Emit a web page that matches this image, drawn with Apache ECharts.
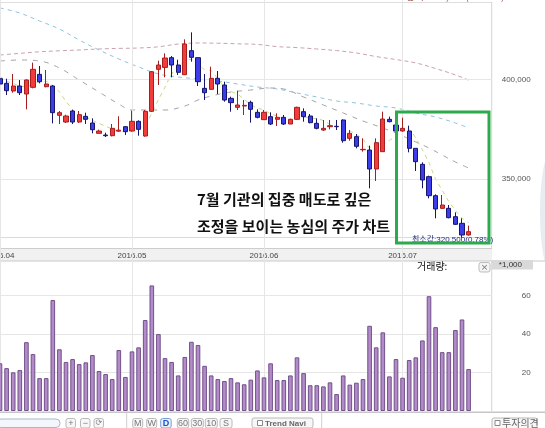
<!DOCTYPE html>
<html><head><meta charset="utf-8">
<script src="https://cdn.jsdelivr.net/npm/echarts@6/dist/echarts.min.js"></script>
<style>html,body{margin:0;padding:0;background:#fff;}#c{width:545px;height:428px;}</style>
</head><body><div id="c"></div>
<script>
// ---------- data ----------
const dates = ['2016.04.01','2016.04.04','2016.04.05','2016.04.06','2016.04.07','2016.04.08','2016.04.11','2016.04.12','2016.04.14','2016.04.15',
'2016.04.18','2016.04.19','2016.04.20','2016.04.21','2016.04.22','2016.04.25','2016.04.26','2016.04.27','2016.04.28','2016.04.29',
'2016.05.02','2016.05.03','2016.05.04','2016.05.09','2016.05.10','2016.05.11','2016.05.12','2016.05.13','2016.05.16','2016.05.17',
'2016.05.18','2016.05.19','2016.05.20','2016.05.23','2016.05.24','2016.05.25','2016.05.26','2016.05.27','2016.05.30','2016.05.31',
'2016.06.01','2016.06.02','2016.06.03','2016.06.07','2016.06.08','2016.06.09','2016.06.10','2016.06.13','2016.06.14','2016.06.15',
'2016.06.16','2016.06.17','2016.06.20','2016.06.21','2016.06.22','2016.06.23','2016.06.24','2016.06.27','2016.06.28','2016.06.29',
'2016.06.30','2016.07.01','2016.07.04','2016.07.05','2016.07.06','2016.07.07','2016.07.08','2016.07.11','2016.07.12','2016.07.13',
'2016.07.14','2016.07.15'];
const padCategories = ['', '', ''];

const opens = [400300,397970,394130,396640,392620,395970,402480,396300,396640,381920,
378580,384100,378580,381420,378080,372900,372060,371720,374000,376240,
374060,378910,371550,383930,405000,405980,410850,407170,402320,414360,
410850,395460,394960,400480,397140,390450,385940,386600,388450,383430,
379760,381260,379920,380920,377580,379920,383770,381590,377920,374570,
376240,376400,379590,370390,371230,364680,364540,355010,363700,379920,
377080,374070,374070,365380,357360,351170,341640,335290,335290,331110,
327770,321920];
const closes = [397640,394290,396640,393290,399650,405000,398800,397640,383260,383260,
381590,378580,382260,379920,374730,374060,371720,375400,374500,373730,
378910,374900,383930,403820,407170,410680,407170,403490,417700,411010,
398810,393290,400480,397640,389610,388280,387110,386940,384940,380920,
383430,377580,380920,377580,379920,385940,381260,378250,375410,375410,
376740,376240,369220,372900,366380,364860,355010,368220,380090,378750,
374070,375410,365380,358690,349500,341640,334960,336960,330610,327260,
321920,323590];
const lows = [396800,392120,393290,392120,384930,395460,397970,395970,377910,377580,
378100,377580,378100,377580,372900,372900,371060,371390,373700,372060,
373730,371720,371220,383600,397140,400980,400980,402150,402150,408840,
396640,389610,394800,392620,388780,383760,384600,382100,378250,380420,
379590,377080,376570,377080,377580,379590,378750,377920,374910,374070,
374910,374570,368220,369220,365380,363700,345320,348990,363700,378420,
373800,373740,363370,354010,345320,340300,330280,334960,330280,326920,
320500,321590];
const highs = [401300,400300,402650,399650,399980,408340,406670,404660,397140,384100,
382260,384760,384100,383260,380420,374730,373230,377580,381450,376570,
384260,379420,384600,404160,409340,413020,411680,409840,420040,423550,
410850,402650,406330,404160,398800,391290,394300,389620,389280,384940,
384600,383430,382930,382090,380250,386270,385440,382600,380420,379590,
379590,379590,379920,374570,372560,370390,366720,370390,383770,381260,
377580,380760,376740,365380,358360,351670,342310,341970,336960,333290,
330280,326600];

// volume, x 1,000
const volumes = [24.8,22.3,20.1,21.3,35.8,29.6,17.1,17.1,57.7,32.1,
25.5,27.0,24.4,25.3,29.1,20.8,19.2,16.6,31.7,17.7,
31.0,33.1,47.3,65.3,40.0,27.5,25.5,18.5,28.1,36.0,
34.3,23.5,18.5,16.6,15.6,17.1,14.9,13.9,16.3,21.1,
17.5,24.8,16.1,16.1,18.5,27.9,19.7,13.4,13.4,12.8,
14.9,8.8,18.5,13.7,14.7,16.6,44.3,33.1,40.9,18.0,
27.0,17.3,26.5,27.9,36.7,59.7,43.6,30.6,30.6,42.1,
47.6,21.8];

// moving averages
const ma5 = [401500,399000,398000,396500,396300,397800,398700,398900,396900,393600,
388900,384900,381800,381100,379400,377900,376500,375100,374000,373800,
374800,375500,377200,383000,389700,396100,402600,406500,409300,410000,
407600,404900,404300,400200,396000,393900,392600,389900,387400,385600,
384600,382700,381500,380100,379900,380400,381100,380600,380200,379300,
377400,376400,374600,374100,372300,370000,365700,365500,367000,369400,
371200,375300,374800,370500,364600,358100,350000,344400,338700,334300,
330400,328100];
const ma20 = [[0,409180],[3,409680],[6,409180],[9,405670],[12,399650],[15,393630],[18,387610],[20,384600],[23,384600],[25,384600],
[28,386610],[30,389620],[32,391620],[35,393630],[38,394630],[41,395630],[43,395130],[46,391120],[49,387110],[52,383100],
[55,379090],[58,375580],[61,371570],[63,368560],[65,365550],[67,362040],[69,358530],[71,355520]];
const ma60 = [[0,435800],[3,433250],[6,429240],[9,425230],[12,419700],[15,414700],[18,410200],[21,406200],[24,402700],[27,401150],
[30,400150],[33,399150],[36,397640],[39,396140],[42,395130],[45,393130],[48,391120],[51,389120],[54,388110],[57,386610],
[60,385610],[63,383100],[66,381090],[69,378090],[71,375580]];
const ma120 = [[0,412200],[3,413000],[6,413800],[9,414300],[12,414700],[15,415200],[18,415500],[21,415700],[24,416300],[27,417700],
[30,418200],[33,418100],[36,417800],[39,417500],[42,416400],[45,415900],[48,415200],[51,414400],[54,413200],[57,411400],
[60,409900],[63,408200],[66,405400],[69,402200],[71,399600]];

const priceGridValues = [350000, 400000];
const volumeGridValues = [20, 40, 60];
const monthStartIdx = [0, 20, 40, 61];
const monthLabels = ['2016.04', '2016.05', '2016.06', '2016.07'];

// ---------- chart ----------
const cats = dates.concat(padCategories);
const candleData = dates.map((d, i) => [opens[i], closes[i], lows[i], highs[i]]);
const GL = -3.3, GW = 495;
const gridColor = '#e6e6e6';
const vLines = monthStartIdx.map(i => ({ xAxis: dates[i] }));

const chart = echarts.init(document.getElementById('c'), null, { renderer: 'canvas' });

function box(x, y, w, h, extra) {
  return Object.assign({ type: 'rect', shape: { x, y, width: w, height: h, r: 2 },
    style: { fill: '#f7f7f7', stroke: '#b9b9b9', lineWidth: 1 }, z: 50 }, extra || {});
}
function txt(x, y, s, font, fill, align, extra) {
  return Object.assign({ type: 'text', z: 60, style: { x, y, text: s, font, fill, align: align || 'left', verticalAlign: 'middle' } }, extra || {});
}
function hline(x1, x2, y, color, w, z) {
  return { type: 'line', shape: { x1, y1: y, x2, y2: y }, style: { stroke: color, lineWidth: w || 1 }, z: z == null ? 1 : z };
}
function vline(x, y1, y2, color, w, z) {
  return { type: 'line', shape: { x1: x, y1, x2: x, y2 }, style: { stroke: color, lineWidth: w || 1 }, z: z == null ? 1 : z };
}

const btnFont = '9px "Liberation Sans"';
const graphics = [
  // header remnant
  hline(0, 492, 2.5, '#dedede', 1, 1),
  txt(406, -4, '종가: 400,000(-2.20%)', '10px "Noto Sans CJK KR"', '#a06050'),
  // right borders & panel bottoms
  vline(491.7, 2, 248, '#d4d4d4', 1, 1),
  hline(0, 492, 237.5, '#dadada', 1, 1),
  // date strip
  { type: 'rect', shape: { x: 0, y: 248, width: 492, height: 13 }, style: { fill: '#f1f1f1' }, z: 0 },
  hline(0, 545, 261, '#c9c9c9', 1, 1),
  vline(491.7, 261, 411, '#d4d4d4', 1, 1),
  // volume header
  txt(417, 266, '거래량:', '10px "Noto Sans CJK KR"', '#111'),
  box(479, 262.5, 11, 9.5, { style: { fill: '#f4f4f4', stroke: '#bdbdbd', lineWidth: 1 } }),
  txt(484.5, 267.3, '×', '9px "DejaVu Sans"', '#777', 'center'),
  { type: 'rect', shape: { x: 492, y: 260, width: 41, height: 9.5 }, style: { fill: '#d9d9d9' }, z: 40 },
  txt(522, 264.8, '*1,000', '8px "Liberation Sans"', '#333', 'right'),
  // right scroll hint
  { type: 'ellipse', shape: { cx: 551, cy: 212, rx: 11, ry: 60 }, style: { fill: '#e8ebf0' }, z: 0 },
  // toolbar
  hline(0, 545, 412.2, '#c6c6c6', 1.5, 30),
  { type: 'rect', shape: { x: -3, y: 419, width: 63, height: 8.5, r: 4 }, style: { fill: '#f3f7fb', stroke: '#a9b8c8', lineWidth: 1 }, z: 50 },
  box(66, 418.5, 9.5, 9.5), txt(70.8, 423.3, '+', btnFont, '#777', 'center'),
  box(80.5, 418.5, 9.5, 9.5), txt(85.3, 423.3, '−', btnFont, '#777', 'center'),
  box(94, 418.5, 9.5, 9.5), txt(98.8, 423.3, '⟳', '8px "DejaVu Sans"', '#888', 'center'),
  vline(126.7, 413, 428, '#cfcfcf', 1, 30),
  box(132.7, 418.5, 10, 9.5), txt(137.7, 423.3, 'M', btnFont, '#777', 'center'),
  box(146.7, 418.5, 10, 9.5), txt(151.7, 423.3, 'W', btnFont, '#777', 'center'),
  box(160.7, 418.5, 10.5, 9.5, { style: { fill: '#e9f0fb', stroke: '#7b9fd6', lineWidth: 1 } }), txt(166, 423.3, 'D', 'bold 9px "Liberation Sans"', '#1d56c8', 'center'),
  box(177.3, 418.5, 11.4, 9.5), txt(183, 423.3, '60', btnFont, '#777', 'center'),
  box(191.3, 418.5, 12, 9.5), txt(197.3, 423.3, '30', btnFont, '#777', 'center'),
  box(205.3, 418.5, 12, 9.5), txt(211.3, 423.3, '10', btnFont, '#777', 'center'),
  box(220, 418.5, 12, 9.5), txt(226, 423.3, 'S', btnFont, '#777', 'center'),
  box(252, 418, 61, 10), { type: 'rect', shape: { x: 257.5, y: 420.5, width: 5, height: 5 }, style: { fill: '#fff', stroke: '#888', lineWidth: 1 }, z: 55 },
  txt(265, 423.3, 'Trend Navi', 'bold 8px "Liberation Sans"', '#666'),
  vline(321.7, 413, 428, '#cfcfcf', 1, 30),
  box(492, 418, 45, 11), { type: 'rect', shape: { x: 495, y: 420.5, width: 5, height: 5 }, style: { fill: '#fff', stroke: '#888', lineWidth: 1 }, z: 55 },
  txt(502, 423.5, '투자의견', '10px "Noto Sans CJK KR"', '#666'),
  // annotation
  txt(412, 239.5, '최소값:320,500(0.78%)', '8px "Liberation Sans", "Noto Sans CJK KR"', '#1f2b78'),
  { type: 'rect', shape: { x: 396.5, y: 112, width: 92.5, height: 131 }, style: { fill: 'rgba(0,0,0,0)', stroke: '#2eaa4e', lineWidth: 3 }, z: 80 },
  txt(197, 199, '7월 기관의 집중 매도로 깊은', 'bold 15px "Noto Sans CJK KR"', '#111', 'left', { z: 90 }),
  txt(197, 226.5, '조정을 보이는 농심의 주가 차트', 'bold 15px "Noto Sans CJK KR"', '#111', 'left', { z: 90 })
];

const option = {
  animation: false,
  backgroundColor: '#ffffff',
  grid: [
    { left: GL, width: GW, top: -20.4, height: 299.1, outerBoundsMode: 'none', containLabel: false },
    { left: GL, width: GW, top: 261, height: 150, outerBoundsMode: 'none', containLabel: false }
  ],
  xAxis: [
    { type: 'category', gridIndex: 0, data: cats, boundaryGap: true, offset: -30.4,
      axisLine: { show: true, lineStyle: { color: '#cdcdcd' } }, axisTick: { show: false },
      axisLabel: { interval: (i) => monthStartIdx.indexOf(i) >= 0,
        formatter: (v, i) => monthLabels[monthStartIdx.indexOf(i)] || '',
        fontSize: 8, fontFamily: 'Liberation Sans', color: '#444', margin: 3, hideOverlap: false },
      splitLine: { show: false } },
    { type: 'category', gridIndex: 1, data: cats, boundaryGap: true,
      axisLine: { show: false }, axisTick: { show: false }, axisLabel: { show: false }, splitLine: { show: false } }
  ],
  yAxis: [
    { type: 'value', gridIndex: 0, position: 'right', min: 300000, max: 450000, interval: 50000,
      axisLine: { show: false }, axisTick: { show: false }, splitLine: { show: false },
      axisLabel: { showMinLabel: false, showMaxLabel: false, margin: 10, fontSize: 8, fontFamily: 'Liberation Sans', color: '#555',
        formatter: v => v.toLocaleString('en-US') } },
    { type: 'value', gridIndex: 1, position: 'right', min: 0, max: 78, interval: 20,
      axisLine: { show: false }, axisTick: { show: false }, splitLine: { show: false },
      axisLabel: { showMinLabel: false, showMaxLabel: false, margin: 30, fontSize: 8, fontFamily: 'Liberation Sans', color: '#555' } }
  ],
  series: [
    { type: 'line', name: 'ma120', xAxisIndex: 0, yAxisIndex: 0, data: ma120, showSymbol: false, smooth: 0.4,
      lineStyle: { color: '#c9a1b3', width: 1, type: [4, 3] }, z: 3,
      markLine: { silent: true, symbol: 'none', label: { show: false },
        lineStyle: { color: gridColor, type: 'solid', width: 1 },
        data: vLines.concat(priceGridValues.map(v => ({ yAxis: v }))) } },
    { type: 'line', name: 'ma60', xAxisIndex: 0, yAxisIndex: 0, data: ma60, showSymbol: false, smooth: 0.4,
      lineStyle: { color: '#8cc3df', width: 1, type: [4, 4] }, z: 3 },
    { type: 'line', name: 'ma20', xAxisIndex: 0, yAxisIndex: 0, data: ma20, showSymbol: false, smooth: 0.4,
      lineStyle: { color: '#a4a4a4', width: 1, type: [5, 6] }, z: 3 },
    { type: 'line', name: 'ma5', xAxisIndex: 0, yAxisIndex: 0, data: ma5, showSymbol: false, smooth: 0.3,
      lineStyle: { color: '#c3da86', width: 1, type: [4, 4] }, z: 3 },
    { type: 'candlestick', name: 'price', xAxisIndex: 0, yAxisIndex: 0, data: candleData, barWidth: '70%', z: 5,
      itemStyle: { color: '#f23c3c', color0: '#3c3ce8', borderColor: '#a61e1e', borderColor0: '#16166e', borderWidth: 1 } },
    { type: 'bar', name: 'volume', xAxisIndex: 1, yAxisIndex: 1, data: volumes, barWidth: '70%', z: 5,
      itemStyle: { color: '#b28bc8', borderColor: '#71508a', borderWidth: 1 },
      markLine: { silent: true, symbol: 'none', label: { show: false },
        lineStyle: { color: gridColor, type: 'solid', width: 1 },
        data: vLines.concat(volumeGridValues.map(v => ({ yAxis: v }))) } }
  ],
  graphic: graphics
};
chart.setOption(option);
</script>
</body></html>
